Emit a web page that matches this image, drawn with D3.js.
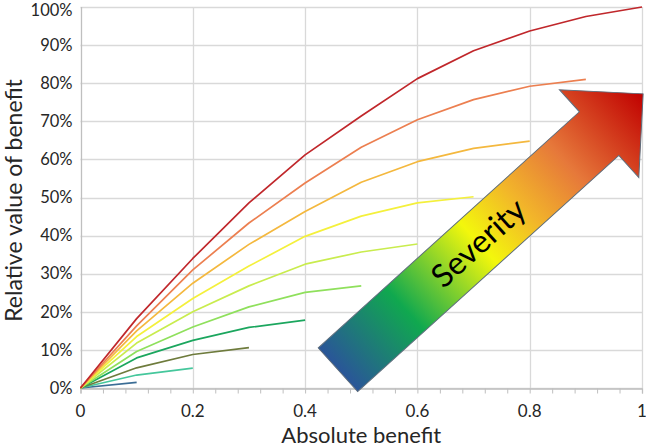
<!DOCTYPE html>
<html>
<head>
<meta charset="utf-8">
<script src="https://cdn.jsdelivr.net/npm/d3@7"></script>
<style>
  body { margin: 0; background: #fff; }
  text { font-family: Lato, "Open Sans", sans-serif; fill: #262626; }
</style>
</head>
<body>
<div id="chart"></div>
<script>
'use strict';

// x positions where each curve has a point
var benefitSteps = [0, 0.1, 0.2, 0.3, 0.4, 0.5, 0.6, 0.7, 0.8, 0.9, 1.0];

// one curve per severity level (fractions of 1)
var sev1 = [0, 0.015];
var sev2 = [0, 0.034, 0.052];
var sev3 = [0, 0.053, 0.088, 0.106];
var sev4 = [0, 0.079, 0.125, 0.159, 0.178];
var sev5 = [0, 0.096, 0.160, 0.213, 0.251, 0.268];
var sev6 = [0, 0.118, 0.200, 0.268, 0.325, 0.357, 0.378];
var sev7 = [0, 0.135, 0.235, 0.320, 0.398, 0.451, 0.486, 0.502];
var sev8 = [0, 0.150, 0.275, 0.377, 0.463, 0.540, 0.594, 0.629, 0.648];
var sev9 = [0, 0.163, 0.310, 0.433, 0.538, 0.632, 0.704, 0.757, 0.792, 0.810];
var sev10 = [0, 0.182, 0.340, 0.486, 0.612, 0.714, 0.812, 0.885, 0.937, 0.975, 1.0];

var severitySeries = [sev1, sev2, sev3, sev4, sev5, sev6, sev7, sev8, sev9, sev10];
var severityColors = ["#3b6d95", "#45c79c", "#6e7b3c", "#1ba65e", "#8fe05c",
                      "#c9ec4e", "#f4f03c", "#f4b83e", "#ec7f50", "#c0272b"];

var xTicks = [0, 0.2, 0.4, 0.6, 0.8, 1];
var yTicks = [0, 0.1, 0.2, 0.3, 0.4, 0.5, 0.6, 0.7, 0.8, 0.9, 1.0];

// arrow: tail centre and tip in data units
var arrowTail = [0.4585, 0.048];
var arrowTip = [1.002, 0.772];

var width = 646, height = 447;
var margin = {top: 7, right: 4, bottom: 59, left: 80.5};

var svg = d3.select("#chart").append("svg")
    .attr("width", width)
    .attr("height", height);

var x = d3.scaleLinear().domain([0, 1]).range([margin.left, width - margin.right]);
var y = d3.scaleLinear().domain([0, 1]).range([height - margin.bottom, margin.top]);

// gridlines
svg.append("g")
    .selectAll("line.hgrid")
    .data(yTicks)
    .enter().append("line")
    .attr("class", "hgrid")
    .attr("x1", x(0)).attr("x2", x(1))
    .attr("y1", function(d) { return Math.round(y(d)) + 0.5; })
    .attr("y2", function(d) { return Math.round(y(d)) + 0.5; })
    .style("stroke", "#d9d9d9")
    .style("stroke-width", 1.3);

svg.append("g")
    .selectAll("line.vgrid")
    .data(xTicks)
    .enter().append("line")
    .attr("class", "vgrid")
    .attr("x1", function(d) { return Math.round(x(d)) + 0.5; })
    .attr("x2", function(d) { return Math.round(x(d)) + 0.5; })
    .attr("y1", y(0)).attr("y2", y(1))
    .style("stroke", function(d) { return d === 0 ? "#bfbfbf" : "#d9d9d9"; })
    .style("stroke-width", 1.3);

// x axis with small minor ticks
var xAxis = d3.axisBottom(x)
    .tickValues(d3.range(0, 1.0001, 0.04))
    .tickSize(5)
    .tickFormat("");

var gx = svg.append("g")
    .attr("transform", "translate(0," + (Math.round(y(0)) + 0.5) + ")")
    .call(xAxis);
gx.select(".domain").style("stroke", "#bfbfbf").style("stroke-width", 1.3);
gx.selectAll(".tick line").style("stroke", "#bfbfbf");

svg.append("g")
    .selectAll("text.xlabel")
    .data(xTicks)
    .enter().append("text")
    .attr("class", "xlabel")
    .attr("x", function(d) { return x(d); })
    .attr("y", y(0) + 29)
    .style("text-anchor", "middle")
    .style("font-size", "17px")
    .text(function(d) { return d3.format("~g")(d); });

// the top label sits a little lower so it stays inside the frame
svg.append("g")
    .selectAll("text.ylabel")
    .data(yTicks)
    .enter().append("text")
    .attr("class", "ylabel")
    .attr("x", x(0) - 8)
    .attr("y", function(d) { return Math.max(y(d), 10.5); })
    .attr("dy", "0.35em")
    .style("text-anchor", "end")
    .style("font-size", "16.5px")
    .text(function(d) { return d3.format(".0%")(d); });

// axis titles
svg.append("text")
    .attr("transform", "translate(" + ((x(0) + x(1)) / 2) + "," + (height - 4) + ")")
    .style("text-anchor", "middle")
    .style("font-size", "22px")
    .text("Absolute benefit");

svg.append("text")
    .attr("transform", "translate(22," + ((y(0) + y(1)) / 2 + 3) + ") rotate(-90)")
    .style("text-anchor", "middle")
    .style("font-size", "23px")
    .text("Relative value of benefit");

// the curves
var line = d3.line()
    .x(function(d, i) { return x(benefitSteps[i]); })
    .y(function(d) { return y(d); });

svg.append("g")
    .selectAll("path.curve")
    .data(severitySeries)
    .enter().append("path")
    .attr("class", "curve")
    .attr("d", line)
    .style("fill", "none")
    .style("stroke", function(d, i) { return severityColors[i]; })
    .style("stroke-width", 1.7)
    .style("stroke-linejoin", "round");

// severity arrow, built along the line from tail to tip
var tx = x(arrowTail[0]), ty = y(arrowTail[1]);
var px = x(arrowTip[0]), py = y(arrowTip[1]);
var len = Math.sqrt((px - tx) * (px - tx) + (py - ty) * (py - ty));
var angle = Math.atan2(py - ty, px - tx) * 180 / Math.PI;
var shaftW = 58.8, headW = 118.3, headL = 59.3;

var defs = svg.append("defs");
var grad = defs.append("linearGradient")
    .attr("id", "severityGrad")
    .attr("gradientUnits", "userSpaceOnUse")
    .attr("x1", 0).attr("y1", 0)
    .attr("x2", len).attr("y2", 0);

var stops = [
    [0, "#2a5599"], [0.22, "#10a84f"], [0.46, "#f3f70c"],
    [0.6, "#f2b52a"], [0.75, "#e6783a"], [1, "#c00000"]
];
grad.selectAll("stop")
    .data(stops)
    .enter().append("stop")
    .attr("offset", function(d) { return d[0]; })
    .attr("stop-color", function(d) { return d[1]; });

var arrowG = svg.append("g")
    .attr("transform", "translate(" + tx + "," + ty + ") rotate(" + angle + ")");

var shaftEnd = len - headL;
var arrowPts = [
    [0, -shaftW / 2], [shaftEnd, -shaftW / 2], [shaftEnd, -headW / 2],
    [len, 0],
    [shaftEnd, headW / 2], [shaftEnd, shaftW / 2], [0, shaftW / 2]
];

arrowG.append("path")
    .attr("d", d3.line()(arrowPts) + "Z")
    .style("fill", "url(#severityGrad)")
    .style("stroke", "#5d6d7c")
    .style("stroke-width", 1);

arrowG.append("text")
    .attr("x", len * 0.46)
    .attr("y", 0)
    .attr("dy", "0.35em")
    .style("text-anchor", "middle")
    .style("font-size", "32px")
    .style("fill", "#000")
    .text("Severity");
</script>
</body>
</html>
